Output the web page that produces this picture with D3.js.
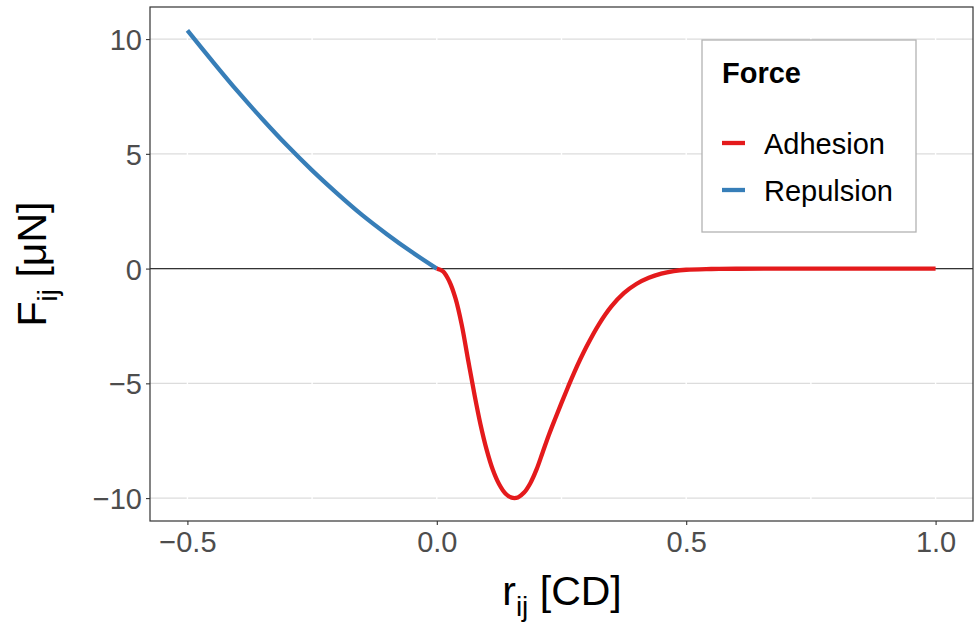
<!DOCTYPE html>
<html>
<head>
<meta charset="utf-8">
<script src="https://cdn.jsdelivr.net/npm/d3@7"></script>
<style>
  html, body { margin: 0; padding: 0; background: #fff; }
  svg { display: block; font-family: "Liberation Sans", Arial, Helvetica, sans-serif; }
</style>
</head>
<body>
<svg id="chart" width="977" height="624"></svg>
<script>
// Distance between cell centres r_ij [CD] and the force F_ij [µN]
const repulsionR = [-0.5, -0.45, -0.4, -0.35, -0.3, -0.25, -0.2, -0.15, -0.1, -0.05, 0];
const repulsionF = [10.38, 9.04, 7.74, 6.52, 5.36, 4.28, 3.28, 2.34, 1.5, 0.72, 0];

const adhesionR = [0, 0.0125, 0.025, 0.0375, 0.05, 0.0625, 0.075, 0.0875, 0.1, 0.1125, 0.125, 0.1375, 0.15, 0.1625,
                   0.175, 0.1875, 0.2, 0.2125, 0.225, 0.2375, 0.25, 0.2625, 0.275, 0.3, 0.325, 0.35, 0.375, 0.4, 0.425, 0.45,
                   0.475, 0.5, 0.55, 0.6, 0.7, 0.8, 0.9, 1.0];
const adhesionF = [0, -0.12, -0.55, -1.3, -2.45, -3.95, -5.43, -6.78, -7.9, -8.78, -9.4, -9.8, -9.98, -9.97,
                   -9.76, -9.35, -8.75, -7.99, -7.23, -6.53, -5.85, -5.19, -4.55, -3.41, -2.43, -1.65, -1.07, -0.67, -0.40, -0.22,
                   -0.11, -0.05, -0.018, -0.006, -0.001, 0, 0, 0];

const seriesNames = ["Adhesion", "Repulsion"];
const seriesColors = ["#E41A1C", "#377EB8"];

const xTicks = [-0.5, 0.0, 0.5, 1.0];
const xMinorTicks = [-0.25, 0.25, 0.75];
const yTicks = [-10, -5, 0, 5, 10];

const svg = d3.select("#chart");
const panel = { left: 150, right: 973, top: 7, bottom: 521 };

// ggplot-style 5% expansion of the data range
const allR = repulsionR.concat(adhesionR);
const allF = repulsionF.concat(adhesionF);
const rExt = d3.extent(allR), fExt = d3.extent(allF);
const rPad = (rExt[1] - rExt[0]) * 0.05, fPad = (fExt[1] - fExt[0]) * 0.05;

const x = d3.scaleLinear().domain([rExt[0] - rPad, rExt[1] + rPad]).range([panel.left, panel.right]);
const y = d3.scaleLinear().domain([fExt[0] - fPad, fExt[1] + fPad]).range([panel.bottom, panel.top]);

const g = svg.append("g");

// horizontal grid (grey)
g.append("g").selectAll("line").data(yTicks).join("line")
  .attr("x1", panel.left).attr("x2", panel.right)
  .attr("y1", d => y(d)).attr("y2", d => y(d))
  .attr("stroke", "#dcdcdc").attr("stroke-width", 1.4);

// vertical grid (white)
g.append("g").selectAll("line").data(xTicks.concat(xMinorTicks)).join("line")
  .attr("x1", d => x(d)).attr("x2", d => x(d))
  .attr("y1", panel.top).attr("y2", panel.bottom)
  .attr("stroke", "#ffffff").attr("stroke-width", 1.4);

// zero reference line
g.append("line")
  .attr("x1", panel.left).attr("x2", panel.right)
  .attr("y1", y(0)).attr("y2", y(0))
  .attr("stroke", "#333333").attr("stroke-width", 1.3);

// curves
const line = d3.line().x(d => x(d[0])).y(d => y(d[1])).curve(d3.curveCatmullRom.alpha(0.5));
const repData = repulsionR.map((r, i) => [r, repulsionF[i]]);
const adhData = adhesionR.map((r, i) => [r, adhesionF[i]]);

g.append("path").datum(repData).attr("d", line)
  .attr("fill", "none").attr("stroke", seriesColors[1]).attr("stroke-width", 4.3);
g.append("path").datum(adhData).attr("d", line)
  .attr("fill", "none").attr("stroke", seriesColors[0]).attr("stroke-width", 4.3)
  .attr("stroke-linejoin", "round");

// panel border
g.append("rect")
  .attr("x", panel.left).attr("y", panel.top)
  .attr("width", panel.right - panel.left).attr("height", panel.bottom - panel.top)
  .attr("fill", "none").attr("stroke", "#333333").attr("stroke-width", 1.2);

// axes
const xAxis = d3.axisBottom(x).tickValues(xTicks).tickFormat(d3.format(".1f")).tickSize(4).tickPadding(6);
const yAxis = d3.axisLeft(y).tickValues(yTicks).tickFormat(d3.format("d")).tickSize(4).tickPadding(4);

const gx = svg.append("g").attr("transform", `translate(0,${panel.bottom})`).call(xAxis);
const gy = svg.append("g").attr("transform", `translate(${panel.left},0)`).call(yAxis);
[gx, gy].forEach(a => {
  a.select(".domain").remove();
  a.selectAll(".tick line").attr("stroke", "#333333").attr("stroke-width", 1.1);
  a.selectAll(".tick text").attr("fill", "#4d4d4d").attr("font-size", 29)
    .attr("font-family", "Liberation Sans, Arial, sans-serif");
});
gx.selectAll(".tick text").attr("dy", "0.71em");
gy.selectAll(".tick text").attr("dy", "0.36em");

// axis titles
const xTitle = svg.append("text")
  .attr("x", 562).attr("y", 605)
  .attr("text-anchor", "middle").attr("font-size", 41).attr("fill", "#000");
xTitle.append("tspan").text("r");
xTitle.append("tspan").attr("font-size", 28).attr("dy", 11).text("ij");
xTitle.append("tspan").attr("dy", -11).text(" [CD]");

const yTitle = svg.append("text")
  .attr("transform", `translate(46,${(panel.top + panel.bottom) / 2}) rotate(-90)`)
  .attr("text-anchor", "middle").attr("font-size", 41).attr("fill", "#000");
yTitle.append("tspan").text("F");
yTitle.append("tspan").attr("font-size", 28).attr("dy", 11).text("ij");
yTitle.append("tspan").attr("dy", -11).text("  [\u03bcN]");

// legend
const legend = svg.append("g");
legend.append("rect")
  .attr("x", 702).attr("y", 40).attr("width", 214).attr("height", 192)
  .attr("fill", "#fff").attr("stroke", "#b3b3b3").attr("stroke-width", 1.3);
legend.append("text")
  .attr("x", 722).attr("y", 83)
  .attr("font-size", 29).attr("font-weight", "bold").attr("fill", "#000").text("Force");
const legendY = [143, 190];
seriesNames.forEach((name, i) => {
  legend.append("line")
    .attr("x1", 722).attr("x2", 745).attr("y1", legendY[i]).attr("y2", legendY[i])
    .attr("stroke", seriesColors[i]).attr("stroke-width", 4.3);
  legend.append("text")
    .attr("x", 764).attr("y", legendY[i] + 11)
    .attr("font-size", 29).attr("fill", "#000").text(name);
});
</script>
</body>
</html>
